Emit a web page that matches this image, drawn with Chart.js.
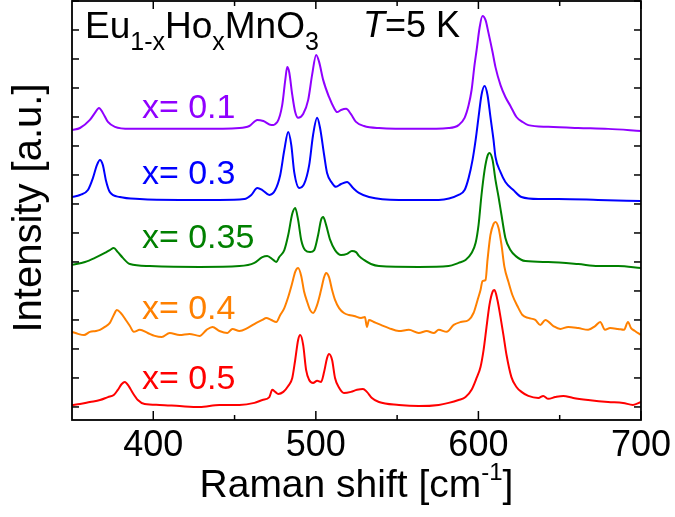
<!DOCTYPE html>
<html>
<head>
<meta charset="utf-8">
<script src="https://cdn.jsdelivr.net/npm/chart.js@4.4.0/dist/chart.umd.min.js"></script>
<style>
  html, body { margin: 0; padding: 0; background: #fff; }
  canvas { display: block; }
</style>
</head>
<body>
<canvas id="raman" width="675" height="517" style="width:675px;height:517px"></canvas>
<script>
const FONT = '"Liberation Sans", Arial, sans-serif';

// Raman shift [cm-1] and stacked intensity [a.u.] for each composition
const shift01 = [350, 354.9, 361.0, 364.1, 366.6, 369.0, 372.1, 376.4, 385.6, 403.9,
  428.5, 453.0, 459.1, 464.0, 467.7, 472.6, 476.3, 479.3, 481.2, 482.4,
  483.6, 485.5, 487.3, 489.1, 492.2, 495.3, 497.7, 500.2, 502.0, 504.5,
  508.1, 511.2, 513.1, 515.5, 518.6, 521.6, 524.7, 529.6, 538.8, 563.3,
  581.7, 587.8, 591.5, 594.0, 595.8, 597.6, 598.9, 600.7, 602.5, 604.4,
  606.2, 608.7, 610.5, 613.6, 616.6, 619.7, 623.4, 627.1, 630.7, 643.0,
  661.4, 679.8, 700];
const int01 = [9.55, 9.62, 9.90, 10.14, 10.31, 10.14, 9.83, 9.66, 9.59, 9.59,
  9.59, 9.62, 9.69, 9.90, 9.86, 9.72, 9.83, 10.41, 11.28, 11.72,
  11.55, 10.76, 10.17, 9.97, 10.10, 10.59, 11.45, 12.14, 11.90, 11.28,
  10.69, 10.31, 10.17, 10.24, 10.28, 10.10, 9.83, 9.69, 9.62, 9.59,
  9.62, 9.72, 9.97, 10.41, 10.93, 11.79, 12.31, 13.07, 13.48, 13.34,
  12.90, 12.24, 11.72, 11.10, 10.69, 10.38, 10.00, 9.83, 9.72, 9.66,
  9.62, 9.59, 9.52];

const shift03 = [350, 354.9, 359.8, 362.9, 365.3, 367.2, 369.0, 370.8, 373.3, 379.4,
  391.7, 416.2, 440.7, 456.0, 460.3, 464.0, 467.1, 471.4, 475.0, 478.1,
  480.6, 483.0, 484.9, 486.7, 489.8, 492.8, 495.9, 498.3, 500.8, 502.6,
  505.1, 506.9, 510.0, 512.4, 515.5, 519.2, 522.9, 526.5, 532.7, 551.1,
  575.6, 587.8, 591.5, 594.0, 596.4, 598.3, 600.1, 601.9, 603.8, 605.6,
  607.4, 609.3, 610.5, 613.6, 616.6, 621.5, 626.5, 636.9, 649.1, 673.6,
  700];
const int03 = [7.24, 7.31, 7.48, 7.90, 8.34, 8.52, 8.34, 7.83, 7.41, 7.24,
  7.17, 7.14, 7.14, 7.17, 7.31, 7.55, 7.48, 7.31, 7.48, 8.00,
  8.86, 9.48, 9.03, 8.10, 7.55, 7.69, 8.34, 9.38, 9.97, 9.62,
  8.69, 8.07, 7.72, 7.59, 7.69, 7.76, 7.55, 7.38, 7.24, 7.14,
  7.14, 7.31, 7.48, 7.90, 8.52, 9.21, 10.00, 10.76, 11.07, 10.76,
  10.00, 9.21, 8.62, 8.10, 7.76, 7.48, 7.24, 7.17, 7.17, 7.14,
  7.10];

const shift035 = [350, 358.0, 364.1, 370.2, 373.3, 375.7, 378.2, 381.3, 385.6, 397.8,
  428.5, 453.0, 462.2, 467.1, 470.1, 473.8, 475.7, 477.5, 480.6, 483.0,
  485.5, 487.3, 489.1, 491.0, 493.4, 496.5, 499.0, 501.4, 503.2, 504.5,
  506.3, 508.8, 511.8, 515.5, 519.2, 522.2, 524.7, 526.5, 529.6, 533.9,
  538.8, 563.3, 581.7, 587.8, 592.1, 595.8, 598.3, 600.1, 601.9, 603.8,
  605.6, 606.8, 608.7, 610.5, 612.4, 614.2, 616.6, 619.7, 622.8, 628.9,
  643.0, 661.4, 673.6, 685.9, 700];
const int035 = [4.90, 5.00, 5.14, 5.31, 5.41, 5.48, 5.34, 5.14, 4.93, 4.86,
  4.83, 4.86, 4.97, 5.17, 5.21, 5.07, 5.00, 5.17, 5.41, 5.93,
  6.66, 6.86, 6.45, 5.76, 5.41, 5.34, 5.41, 5.93, 6.45, 6.55,
  6.28, 5.76, 5.41, 5.24, 5.28, 5.38, 5.34, 5.21, 5.07, 4.93,
  4.86, 4.83, 4.86, 4.97, 5.07, 5.31, 5.66, 6.28, 7.31, 8.17,
  8.66, 8.76, 8.52, 7.83, 7.24, 6.62, 5.83, 5.41, 5.21, 5.03,
  5.00, 4.93, 4.86, 4.86, 4.79];

const shift04 = [350, 353.7, 357.4, 361.0, 364.7, 367.2, 370.2, 373.3, 375.7, 377.6,
  380.0, 383.1, 385.6, 388.0, 391.7, 396.6, 400.9, 405.2, 410.1, 416.2,
  422.3, 428.5, 432.8, 436.4, 440.7, 445.6, 448.7, 453.0, 457.9, 463.4,
  467.1, 469.5, 472.6, 475.7, 478.1, 480.6, 483.0, 485.5, 487.3, 489.1,
  491.0, 492.8, 494.7, 496.5, 498.3, 500.8, 503.2, 505.1, 506.3, 508.1,
  510.0, 511.8, 514.3, 517.3, 520.4, 523.5, 527.8, 530.2, 531.4, 532.7,
  535.7, 540.0, 544.9, 551.1, 557.2, 563.3, 568.2, 572.5, 575.6, 580.5,
  584.8, 589.1, 594.0, 597.0, 599.5, 601.3, 602.5, 604.4, 605.6, 607.4,
  609.3, 610.5, 612.4, 614.2, 616.0, 618.5, 620.9, 624.0, 627.1, 630.7,
  635.0, 638.1, 641.2, 646.1, 650.4, 655.3, 661.4, 667.5, 671.8, 674.9,
  677.9, 681.0, 685.9, 689.6, 692.0, 693.9, 696.3, 700];
const int04 = [2.59, 2.52, 2.48, 2.59, 2.62, 2.66, 2.76, 2.90, 3.17, 3.34,
  3.24, 3.00, 2.79, 2.59, 2.66, 2.55, 2.45, 2.41, 2.55, 2.48,
  2.52, 2.45, 2.66, 2.76, 2.62, 2.55, 2.69, 2.62, 2.72, 2.90,
  3.00, 3.07, 3.00, 2.93, 3.17, 3.41, 3.79, 4.28, 4.66, 4.79,
  4.52, 3.97, 3.62, 3.34, 3.24, 3.52, 4.03, 4.48, 4.62, 4.48,
  4.03, 3.69, 3.41, 3.24, 3.17, 3.14, 3.07, 3.10, 2.76, 3.00,
  2.93, 2.83, 2.72, 2.62, 2.66, 2.55, 2.62, 2.55, 2.66, 2.59,
  2.83, 2.93, 3.00, 3.24, 3.69, 4.03, 4.34, 4.38, 5.07, 5.93,
  6.31, 6.38, 6.17, 5.59, 4.83, 4.31, 3.86, 3.48, 3.17, 3.07,
  3.00, 2.83, 3.00, 2.79, 2.69, 2.76, 2.72, 2.66, 2.79, 2.93,
  2.66, 2.72, 2.69, 2.66, 2.93, 2.72, 2.62, 2.48];

const shift05 = [350, 354.9, 361.0, 367.2, 372.1, 375.7, 378.2, 380.6, 382.5, 384.9,
  387.4, 390.5, 394.7, 403.9, 416.2, 428.5, 440.7, 453.0, 462.2, 467.1,
  471.4, 473.2, 475.0, 476.9, 480.0, 483.0, 485.5, 487.3, 489.1, 490.4,
  492.2, 494.0, 495.9, 498.3, 500.8, 503.2, 505.1, 506.9, 508.1, 510.0,
  511.8, 514.3, 517.3, 521.6, 525.3, 529.0, 531.4, 534.5, 538.8, 551.1,
  563.3, 575.6, 581.7, 587.8, 592.1, 595.8, 598.9, 601.3, 603.2, 605.0,
  606.8, 608.7, 609.9, 611.7, 613.6, 615.4, 617.3, 620.3, 623.4, 626.5,
  630.7, 636.9, 639.9, 643.0, 647.3, 652.2, 658.3, 667.5, 679.8, 689.0,
  695.1, 700];
const int05 = [0.07, 0.10, 0.17, 0.24, 0.34, 0.41, 0.59, 0.79, 0.86, 0.72,
  0.48, 0.24, 0.10, 0.07, 0.03, 0.00, 0.07, 0.07, 0.14, 0.24,
  0.34, 0.59, 0.52, 0.45, 0.52, 0.72, 1.00, 1.62, 2.31, 2.48,
  2.14, 1.28, 0.93, 0.83, 0.90, 0.86, 1.21, 1.69, 1.83, 1.62,
  1.00, 0.66, 0.48, 0.52, 0.59, 0.62, 0.52, 0.31, 0.17, 0.07,
  0.03, 0.07, 0.14, 0.24, 0.34, 0.59, 1.00, 1.38, 1.97, 2.76,
  3.52, 3.97, 4.03, 3.69, 3.10, 2.48, 1.79, 1.03, 0.69, 0.52,
  0.38, 0.31, 0.38, 0.28, 0.34, 0.38, 0.31, 0.24, 0.17, 0.14,
  0.07, 0.17];

const labels = ["x= 0.1", "x= 0.3", "x= 0.35", "x= 0.4", "x= 0.5"];
const colors = ["#9000ff", "#0000ff", "#008000", "#ff8000", "#ff0000"];
const shifts = [shift01, shift03, shift035, shift04, shift05];
const intensities = [int01, int03, int035, int04, int05];
// where each curve label sits, in data units (shift, intensity)
const labelPos = [[393, 9.95], [393, 7.68], [393, 5.48], [393, 3.03], [393, 0.62]];

const xTickLabels = [400, 500, 600, 700];
const xMinorTicks = [450, 550, 650];
const yTicks = [0, 1, 2, 3, 4, 5, 6, 7, 8, 9, 10, 11, 12, 13, 14];

const datasets = labels.map((name, i) => ({
  label: name,
  data: shifts[i].map((s, j) => ({ x: s, y: intensities[i][j] })),
  borderColor: colors[i],
  borderWidth: 2,
  pointRadius: 0,
  fill: false,
  cubicInterpolationMode: "monotone"
}));

function line(ctx, x1, y1, x2, y2) {
  ctx.beginPath();
  ctx.moveTo(x1, y1);
  ctx.lineTo(x2, y2);
  ctx.stroke();
}

// draws a run of text pieces [text, size, dy, italic] left to right
function drawPieces(ctx, pieces, x, y) {
  pieces.forEach(([text, size, dy, italic]) => {
    ctx.font = (italic ? "italic " : "") + size + "px " + FONT;
    ctx.fillText(text, x, y + dy);
    x += ctx.measureText(text).width;
  });
}

function piecesWidth(ctx, pieces) {
  let w = 0;
  pieces.forEach(([text, size, dy, italic]) => {
    ctx.font = (italic ? "italic " : "") + size + "px " + FONT;
    w += ctx.measureText(text).width;
  });
  return w;
}

const decorations = {
  id: "decorations",
  afterDraw(chart) {
    const { ctx, chartArea: a, scales: { x, y } } = chart;
    ctx.save();
    ctx.strokeStyle = "#000";
    ctx.fillStyle = "#000";

    // ticks pointing inward on all four sides
    ctx.lineWidth = 1.5;
    xTickLabels.forEach(v => {
      const px = x.getPixelForValue(v);
      line(ctx, px, a.bottom, px, a.bottom - 9);
      line(ctx, px, a.top, px, a.top + 8);
    });
    xMinorTicks.forEach(v => {
      const px = x.getPixelForValue(v);
      line(ctx, px, a.bottom, px, a.bottom - 5);
      line(ctx, px, a.top, px, a.top + 5);
    });
    yTicks.forEach(v => {
      const py = y.getPixelForValue(v);
      line(ctx, a.left, py, a.left + 7, py);
      line(ctx, a.right, py, a.right - 7, py);
    });

    // frame
    ctx.lineWidth = 1.8;
    ctx.strokeRect(a.left, a.top, a.right - a.left, a.bottom - a.top);

    // curve labels
    ctx.textBaseline = "alphabetic";
    ctx.textAlign = "left";
    ctx.font = "34px " + FONT;
    labels.forEach((name, i) => {
      ctx.fillStyle = colors[i];
      ctx.fillText(name, x.getPixelForValue(labelPos[i][0]), y.getPixelForValue(labelPos[i][1]));
    });

    // compound and temperature
    ctx.fillStyle = "#000";
    drawPieces(ctx, [["Eu", 37, 0], ["1-x", 25, 12], ["Ho", 37, 0], ["x", 25, 12], ["MnO", 37, 0], ["3", 25, 12]], a.left + 13, a.top + 37);
    drawPieces(ctx, [["T", 36, 0, true], ["=5 K", 36, 0]], a.left + 291, a.top + 36);

    // x axis title with superscript
    const xt = [["Raman shift [cm", 39, 0], ["-1", 24, -17], ["]", 39, 0]];
    const w = piecesWidth(ctx, xt);
    drawPieces(ctx, xt, (a.left + a.right) / 2 - w / 2, 497);

    // y axis title
    ctx.translate(30, 208);
    ctx.rotate(-Math.PI / 2);
    ctx.textAlign = "center";
    ctx.textBaseline = "middle";
    ctx.font = "40px " + FONT;
    ctx.fillText("Intensity [a.u.]", 0, 0);
    ctx.restore();
  }
};

const ctx = document.getElementById("raman").getContext("2d");
new Chart(ctx, {
  type: "line",
  data: { datasets: datasets },
  options: {
    responsive: false,
    animation: false,
    devicePixelRatio: 1,
    layout: { padding: { top: 1, right: 32, left: 0, bottom: 0 } },
    plugins: {
      legend: { display: false },
      tooltip: { enabled: false }
    },
    scales: {
      x: {
        type: "linear",
        min: 350,
        max: 700,
        grid: { display: false, drawTicks: false },
        border: { display: false },
        afterBuildTicks: s => { s.ticks = xTickLabels.map(v => ({ value: v })); },
        afterFit: s => { s.height = 97; },
        ticks: {
          color: "#000",
          padding: 4,
          maxRotation: 0,
          font: { family: FONT, size: 36 }
        }
      },
      y: {
        type: "linear",
        min: -0.45,
        max: 14.0,
        grid: { display: false, drawTicks: false },
        border: { display: false },
        afterFit: s => { s.width = 72; },
        ticks: { display: false }
      }
    }
  },
  plugins: [decorations]
});
</script>
</body>
</html>
